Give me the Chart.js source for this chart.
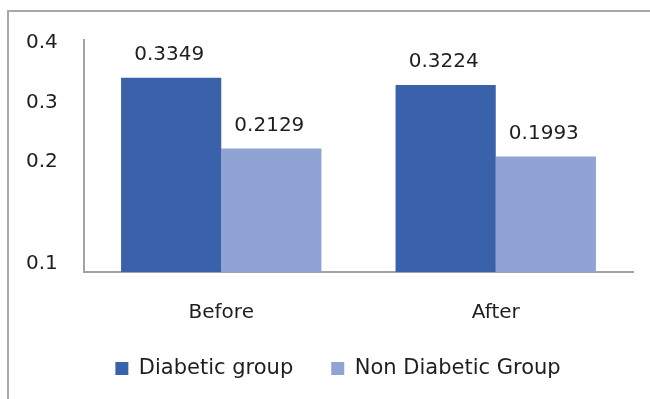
<!DOCTYPE html>
<html>
<head>
<meta charset="utf-8">
<script src="https://cdn.jsdelivr.net/npm/chart.js@4/dist/chart.umd.min.js"></script>
<style>
  html, body { margin: 0; padding: 0; background: #fff; }
  #wrap { position: relative; width: 650px; height: 399px; overflow: hidden; }
  #frame {
    position: absolute; left: 7px; top: 10px; width: 700px; height: 450px;
    border-left: 2px solid #a9a9a9; border-top: 2px solid #a9a9a9;
  }
  canvas { position: absolute; left: 0; top: 0; }
</style>
</head>
<body>
<div id="wrap">
  <div id="frame"></div>
  <canvas id="chart" width="650" height="399"></canvas>
</div>
<script>
const categories = ['Before', 'After'];
const seriesNames = ['Diabetic group', 'Non Diabetic Group'];
const diabeticGroup = [0.3349, 0.3224];
const nonDiabeticGroup = [0.2129, 0.1993];
const yTickLabels = ['0.1', '0.2', '0.3', '0.4'];

const FONT = '"DejaVu Sans", Verdana, sans-serif';
const TEXT = '#1e1e1e';

// Writes each bar's value above it, at the bar's own scale position
const valueLabels = {
  id: 'valueLabels',
  afterDatasetsDraw(chart) {
    const ctx = chart.ctx;
    ctx.save();
    ctx.font = '20px ' + FONT;
    ctx.fillStyle = TEXT;
    ctx.textAlign = 'center';
    ctx.textBaseline = 'middle';
    chart.data.datasets.forEach((ds, i) => {
      chart.getDatasetMeta(i).data.forEach((bar, j) => {
        ctx.fillText(ds.data[j].toFixed(4), bar.x - 2, bar.y - 23);
      });
    });
    ctx.restore();
  }
};

// Where the axis labels sit on the value scale
const yTickPlacement = [0.014, 0.1906, 0.2919, 0.395];

new Chart(document.getElementById('chart'), {
  type: 'bar',
  data: {
    labels: categories,
    datasets: [
      { label: seriesNames[0], data: diabeticGroup, backgroundColor: '#3a62ab' },
      { label: seriesNames[1], data: nonDiabeticGroup, backgroundColor: '#8fa3d4' }
    ]
  },
  options: {
    responsive: false,
    animation: false,
    devicePixelRatio: 1,
    layout: { padding: { left: 43, right: 17, top: 40, bottom: 10 } },
    datasets: {
      bar: { categoryPercentage: 0.73, barPercentage: 1.0, borderWidth: 0 }
    },
    scales: {
      x: {
        grid: { display: false, drawTicks: false },
        border: { display: true, color: '#a3a3a3', width: 2 },
        ticks: { color: TEXT, font: { family: FONT, size: 20 }, padding: 29 },
        afterFit(scale) { scale.height = 48; }
      },
      y: {
        min: 0,
        max: 0.4,
        grid: { display: false, drawTicks: false },
        border: { display: true, color: '#a3a3a3', width: 2 },
        ticks: {
          color: TEXT,
          font: { family: FONT, size: 20 },
          mirror: true,
          padding: -58,
          callback: (v, i) => yTickLabels[i]
        },
        afterBuildTicks(scale) {
          scale.ticks = yTickPlacement.map(v => ({ value: v }));
        },
        afterFit(scale) { scale.width = 41; }
      }
    },
    plugins: {
      legend: {
        position: 'bottom',
        labels: {
          color: TEXT,
          font: { family: FONT, size: 21 },
          boxWidth: 13,
          boxHeight: 13,
          padding: 38
        }
      },
      tooltip: { enabled: false },
      title: { display: false }
    }
  },
  plugins: [valueLabels]
});
</script>
</body>
</html>
